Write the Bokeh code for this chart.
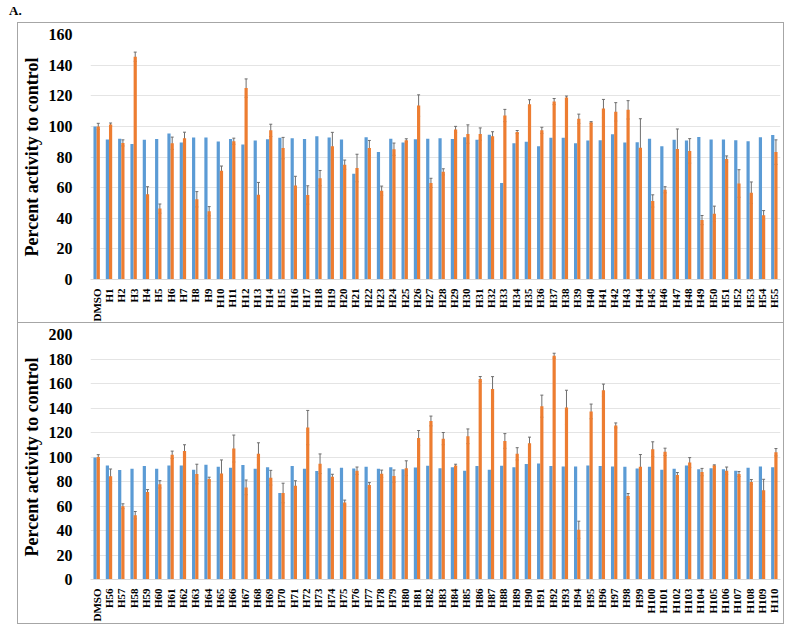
import math
from bokeh.plotting import figure
from bokeh.models import ColumnDataSource, FactorRange, Range1d, Whisker, TeeHead, SingleIntervalTicker, Div
from bokeh.transform import dodge
from bokeh.layouts import column
from bokeh.embed import file_html
from bokeh.resources import INLINE

# ---------------- data ----------------
cats_top = ["DMSO"] + [f"H{i}" for i in range(1, 56)]
blue_top = [100, 91.5, 92, 88.5, 91.2, 91.8, 95.3, 89.4, 92.7, 92.7, 90.1, 91.8, 88.1, 90.7,
            91.6, 92.5, 92.2, 91.8, 93.5, 92.7, 91.4, 69, 92.9, 83.2, 92, 89.4, 91.6, 92,
            92.2, 91.8, 92.9, 91.2, 94.6, 63.1, 89, 89.9, 87.1, 92.5, 92.5, 89, 90.7, 90.9,
            94.8, 89.4, 89.7, 92, 87.1, 91.2, 90.7, 93.1, 91.4, 91.4, 90.9, 90.3, 92.9, 94.4]
orange_top = [100, 101.2, 89.2, 145.5, 55.6, 46.3, 89, 92.2, 52.4, 44.6, 71.1, 90.3, 125, 55.4,
              97.4, 85.8, 61.4, 55.2, 66.2, 87.1, 75, 72.8, 85.8, 58, 85.1, 90.9, 113.6, 63.1,
              70.3, 98, 95, 95, 93.5, 107.1, 96.3, 114.4, 97.4, 116.2, 118.8, 105, 102.6, 111.6,
              109.5, 110.8, 86, 51.3, 58.6, 85.3, 84, 38.8, 42.9, 78.7, 62.7, 56.7, 42, 83.2]
err_top = [2, 1, 2, 3, 5, 3, 4, 4, 5, 3, 3, 2, 6, 8,
           4, 7, 6, 6, 5, 9, 3, 9, 5, 3, 4, 1, 7, 3,
           2, 2, 6, 4, 3, 4, 1, 3, 2, 2, 1, 3, 0.5, 6,
           6, 6, 19, 4, 2, 13, 8, 3, 5, 2, 9, 7, 3, 8]

cats_bot = ["DMSO"] + [f"H{i}" for i in range(56, 111)]
blue_bot = [99.6, 93.1, 89.3, 90.4, 92.6, 90.4, 93.1, 93.1, 89.6, 93.6, 92, 91.2, 93.4, 90.4,
            91.7, 70.6, 92.6, 90.4, 88.5, 90.9, 91.2, 90.7, 92, 90.4, 91.7, 89.9, 91.5, 92.8,
            90.9, 91.7, 88.8, 92.6, 89.6, 92.8, 91.7, 94.2, 94.7, 92.6, 92.3, 92.3, 93.1, 92.6,
            92.3, 92, 90.7, 92, 89.6, 90.4, 93.1, 89.9, 90.9, 89.9, 88.8, 91.2, 92.3, 91.7]
orange_bot = [99.9, 84.2, 59.8, 52.5, 71.4, 77.7, 101.8, 105, 86.1, 82, 86.6, 106.9, 75.2, 102.6,
              83.1, 70.6, 76.6, 124, 94.5, 83.9, 62.8, 88.8, 77.1, 86.3, 84.4, 90.9, 115.6, 129.4,
              115, 93.1, 116.9, 163.7, 155.6, 113.1, 102.6, 111.2, 141.5, 182.7, 140.5, 40.6, 137.2, 154.5,
              125.8, 68.2, 92, 106.4, 104.2, 85.3, 95.5, 87.7, 93.1, 88.8, 86.1, 79.6, 72.8, 103.9]
err_bot = [2, 6, 2, 3, 2, 3, 3, 5, 8, 1.5, 11, 11, 6, 9,
           6, 8, 4, 14, 8, 2, 2, 3, 2, 3, 5, 6, 6, 4,
           5, 1, 6, 2, 10, 6, 5, 5, 9, 2, 14, 7, 6, 5,
           2, 2, 10, 6, 3, 2, 4, 3, 0.5, 3, 2, 2, 9, 3]

BLUE = "#5B9BD5"
ORANGE = "#ED7D31"
FONT = "Liberation Serif"


def make_panel(cats, blue, orange, err, ymax, height, styles):
    src = ColumnDataSource(dict(
        cat=cats, blue=blue, orange=orange,
        upper=[o + e for o, e in zip(orange, err)],
        lower=[o - e for o, e in zip(orange, err)],
    ))
    p = figure(x_range=FactorRange(*cats), y_range=Range1d(0, ymax),
               width=767, height=height, output_backend="svg", toolbar_location=None,
               min_border_left=66, min_border_right=5, min_border_top=11, min_border_bottom=40,
               styles=styles)
    p.vbar(x=dodge("cat", -0.13, range=p.x_range), top="blue", width=0.26,
           source=src, fill_color=BLUE, line_color=None)
    p.vbar(x=dodge("cat", 0.13, range=p.x_range), top="orange", width=0.26,
           source=src, fill_color=ORANGE, line_color=None)
    w = Whisker(base=dodge("cat", 0.13, range=p.x_range), upper="upper", lower="lower",
                source=src, dimension="height", line_color="#6E6E6E", line_width=1,
                upper_head=TeeHead(size=3, line_color="#6E6E6E", line_width=1),
                lower_head=TeeHead(size=3, line_color="#6E6E6E", line_width=1))
    p.add_layout(w)

    p.outline_line_color = None
    p.background_fill_color = "white"
    p.border_fill_color = "white"
    p.xgrid.grid_line_color = None
    p.ygrid.grid_line_color = "#E4E4E4"
    p.ygrid.grid_line_width = 1

    p.yaxis.ticker = SingleIntervalTicker(interval=20)
    p.yaxis.axis_line_color = None
    p.yaxis.major_tick_line_color = None
    p.yaxis.minor_tick_line_color = None
    p.yaxis.major_label_text_font = FONT
    p.yaxis.major_label_text_font_style = "bold"
    p.yaxis.major_label_text_font_size = "16px"
    p.yaxis.major_label_text_color = "black"
    p.yaxis.major_label_standoff = 12
    p.yaxis.axis_label = "Percent activity to control"
    p.yaxis.axis_label_text_font = FONT
    p.yaxis.axis_label_text_font_style = "bold"
    p.yaxis.axis_label_text_font_size = "18px"
    p.yaxis.axis_label_text_color = "black"
    p.yaxis.axis_label_standoff = 4

    p.xaxis.axis_line_color = "#D9D9D9"
    p.xaxis.major_tick_line_color = None
    p.xaxis.minor_tick_line_color = None
    p.xaxis.major_label_orientation = math.pi / 2
    p.xaxis.major_label_text_font = FONT
    p.xaxis.major_label_text_font_style = "bold"
    p.xaxis.major_label_text_font_size = "11px"
    p.xaxis.major_label_text_color = "black"
    p.xaxis.major_label_standoff = 3
    return p


label = Div(text="A.", width=784, height=12,
            styles={"font-family": FONT, "font-weight": "bold", "font-size": "13px",
                    "line-height": "12px", "padding-left": "4px"})

top = make_panel(cats_top, blue_top, orange_top, err_top, 160, 301,
                 {"border": "1px solid #A6A6A6", "box-sizing": "border-box", "margin-left": "17px"})
bot = make_panel(cats_bot, blue_bot, orange_bot, err_bot, 200, 301,
                 {"border": "1px solid #A6A6A6", "border-top": "none", "box-sizing": "border-box",
                  "margin-left": "17px"})

layout = column(label, top, bot, spacing=0)

open("out.html", "w").write(file_html(layout, INLINE))
